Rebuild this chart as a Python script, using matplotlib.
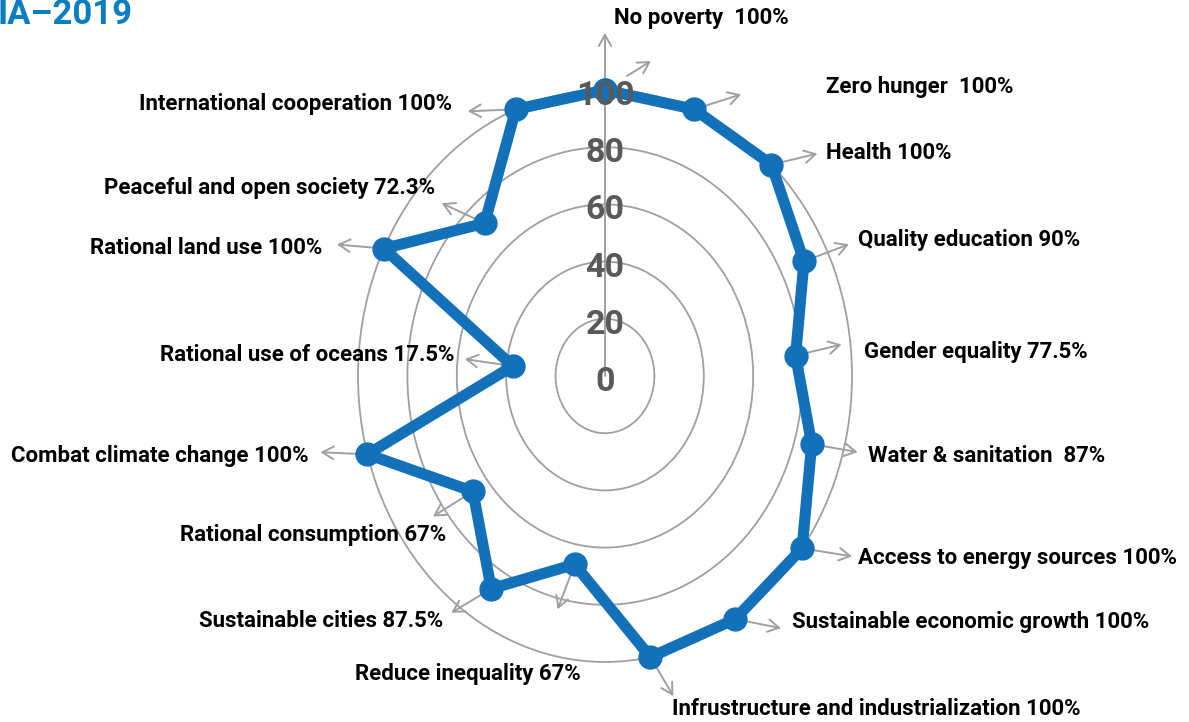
import numpy as np
import matplotlib
matplotlib.use("Agg")
import matplotlib.pyplot as plt
from matplotlib import transforms

# ---------------- data ----------------
categories = [
    "No poverty  100%", "Zero hunger  100%", "Health 100%",
    "Quality education 90%", "Gender equality 77.5%", "Water & sanitation  87%",
    "Access to energy sources 100%", "Sustainable economic growth 100%",
    "Infrustructure and industrialization 100%", "Reduce inequality 67%",
    "Sustainable cities 87.5%", "Rational consumption 67%",
    "Combat climate change 100%", "Rational use of oceans 17.5%",
    "Rational land use 100%", "Peaceful and open society 72.3%",
    "International cooperation 100%",
]
values = [100, 100, 100, 90, 77.5, 87, 100, 100, 100, 67, 87.5, 67,
          100, 37.5, 100, 72.3, 100]
ring_ticks = [0, 20, 40, 60, 80, 100]
title_text = "IA–2019"

# ---------------- style / layout ----------------
W, H = 1189, 722
BLUE = "#1271B9"
GRAY = "#A0A0A0"
TICKGRAY = "#595959"
FONT = "Roboto"

# label anchors in pixels (x, y from top, alignment)
label_pos = [
    (614, 18, "left"), (826, 87, "left"), (826, 153, "left"),
    (858, 240, "left"), (864, 352, "left"), (868, 456, "left"),
    (858, 558, "left"), (792, 622, "left"), (672, 709, "left"),
    (581, 674, "right"), (443, 621, "right"), (446, 535, "right"),
    (309, 456, "right"), (455, 355, "right"), (322, 248, "right"),
    (435, 188, "right"), (452, 104, "right"),
]
# arrow offsets in pixels (dx, dy up) from each data point
arrow_off = [
    None, (47, 15), (46, 11), (45, 17), (46, 11), (46, -8), (50, -8),
    (46, -9), (23, -39), (-17, -45), (-40, -24), (-40, -25), (-47, 2),
    (-48, 7), (-47, 4), (-43, 20), (-48, -2),
]

fig = plt.figure(figsize=(W / 100, H / 100), dpi=100)
fig.patch.set_facecolor("white")

cx, cy, rx, ry = 605, 376, 247, 286
ax = fig.add_axes([(cx - rx) / W, (H - (cy + ry)) / H, 2 * rx / W, 2 * ry / H],
                  projection="polar")
ax.set_aspect("auto")
ax.set_theta_zero_location("N")
ax.set_theta_direction(-1)
ax.set_ylim(0, 100)
ax.set_facecolor("none")
ax.set_xticks([])
ax.set_yticks([20, 40, 60, 80])
ax.set_yticklabels([])
ax.yaxis.grid(True, color=GRAY, linewidth=1.3)
ax.xaxis.grid(False)
ax.spines["polar"].set_color(GRAY)
ax.spines["polar"].set_linewidth(1.3)

n = len(values)
theta = np.arange(n) * 2 * np.pi / n
th_c = np.append(theta, theta[0])
v_c = np.append(values, values[0])

ARROW = "<-,head_length=0.8,head_width=0.45"

# vertical axis with arrow
ax.annotate("", xy=(0, 0), xytext=(0, cy - 33), textcoords="offset pixels",
            arrowprops=dict(arrowstyle=ARROW, color=GRAY, lw=1.4,
                            shrinkA=0, shrinkB=0),
            zorder=2)

# arrows toward labels
for t, v, off in zip(theta, values, arrow_off):
    if off is None:
        continue
    ax.annotate("", xy=(t, v), xytext=off, textcoords="offset pixels",
                arrowprops=dict(arrowstyle=ARROW, color=GRAY, lw=1.4,
                                shrinkA=0, shrinkB=0),
                zorder=2, annotation_clip=False)

# extra stray arrow near the top
tr_tip = transforms.offset_copy(ax.transData, fig=fig, x=46, y=29, units="dots")
ax.annotate("", xy=(theta[0], values[0]), xycoords=tr_tip, xytext=(-24, -15),
            textcoords="offset pixels",
            arrowprops=dict(arrowstyle="->,head_length=0.8,head_width=0.45",
                            color=GRAY, lw=1.4, shrinkA=0, shrinkB=0),
            zorder=2)

ax.plot(th_c, v_c, color=BLUE, linewidth=8, marker="o", markersize=16.5,
        solid_joinstyle="round", zorder=3, clip_on=False)

# ring tick labels
tr_lab = transforms.offset_copy(ax.transData, fig=fig, x=0, y=-6, units="dots")
for r in ring_ticks:
    ax.text(0, r, str(r), transform=tr_lab, ha="center", va="center",
            fontsize=24.5, fontweight="bold", color=TICKGRAY, family=FONT,
            zorder=5)

# category labels
for txt, (x, y, ha) in zip(categories, label_pos):
    fig.text(x / W, 1 - y / H, txt, ha=ha, va="center", fontsize=16,
             fontweight="bold", color="black", family=FONT)

fig.text(-2 / W, 1 - 15 / H, title_text, ha="left", va="center", fontsize=25,
         fontweight="bold", color="#0B7DC1", family=FONT)

fig.savefig("out.png", dpi=100)
